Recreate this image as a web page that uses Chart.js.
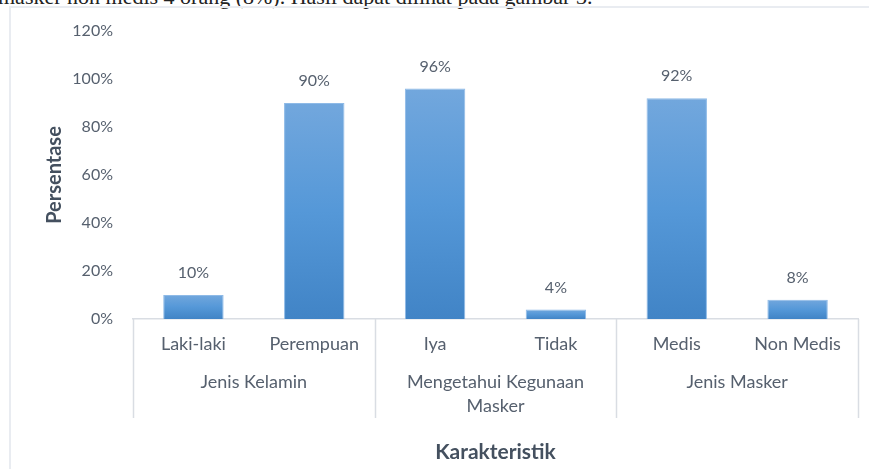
<!DOCTYPE html>
<html>
<head>
<meta charset="utf-8">
<script src="https://cdn.jsdelivr.net/npm/chart.js@4.4.1/dist/chart.umd.min.js"></script>
<style>
  html, body { margin: 0; padding: 0; background: #fff; overflow: hidden; }
  #page { position: relative; width: 869px; height: 469px; overflow: hidden; }
  #caption {
    position: absolute; left: -2px; top: -14px; white-space: nowrap;
    font-family: "Liberation Serif", serif; font-size: 22px; line-height: 22px; color: #222;
  }
  #frame {
    position: absolute; left: 9px; top: 6px; width: 900px; height: 500px;
    border-left: 2px solid #e9ecf1; border-top: 2px solid #e9ecf1;
  }
  #wrap { position: absolute; left: 0; top: 0; width: 869px; height: 469px; }
</style>
</head>
<body>
<div id="page">
  <div id="caption">masker non medis 4 orang (8%). Hasil dapat dilihat pada gambar 3.</div>
  <div id="frame"></div>
  <div id="wrap"><canvas id="chart"></canvas></div>
</div>
<script>
  // chart data
  const categories = ['Laki-laki', 'Perempuan', 'Iya', 'Tidak', 'Medis', 'Non Medis'];
  const groups = ['Jenis Kelamin', ['Mengetahui Kegunaan', 'Masker'], 'Jenis Masker'];
  const values = [10, 90, 96, 4, 92, 8];
  const yTicks = [0, 20, 40, 60, 80, 100, 120];

  const textColor = '#56606e';
  const lineColor = '#d9dde3';
  const font = 'Lato';

  // Bar gradient, lighter at the top of each bar
  function barFill(ctx) {
    const chart = ctx.chart;
    if (!chart.chartArea || ctx.raw == null) return '#5b9bd5';
    const y = chart.scales.y;
    const top = y.getPixelForValue(ctx.raw);
    const base = y.getPixelForValue(0);
    const g = chart.ctx.createLinearGradient(0, top, 0, base);
    g.addColorStop(0, '#72a7dd');
    g.addColorStop(0.5, '#5598d8');
    g.addColorStop(1, '#4184c6');
    return g;
  }

  // value labels above bars
  const valueLabels = {
    id: 'valueLabels',
    afterDatasetsDraw(chart) {
      const c = chart.ctx;
      const meta = chart.getDatasetMeta(0);
      c.save();
      c.font = '16px ' + font;
      c.fillStyle = textColor;
      c.textAlign = 'center';
      c.textBaseline = 'middle';
      meta.data.forEach((bar, i) => {
        c.fillText(values[i] + '%', bar.x, bar.y - 22);
      });
      c.restore();
    }
  };

  // vertical separators between the category groups
  const groupLines = {
    id: 'groupLines',
    afterDraw(chart) {
      const x = chart.scales.x;
      const x2 = chart.scales.x2;
      const c = chart.ctx;
      c.save();
      c.strokeStyle = lineColor;
      c.lineWidth = 1.5;
      for (let i = 0; i <= categories.length; i += 2) {
        const px = Math.round(x.getPixelForValue(i - 0.5)) + 0.5;
        c.beginPath();
        c.moveTo(px, x.top);
        c.lineTo(px, x2.top + 56);
        c.stroke();
      }
      c.restore();
    }
  };

  new Chart(document.getElementById('chart'), {
    type: 'bar',
    data: {
      labels: categories,
      datasets: [{
        data: values,
        backgroundColor: barFill,
        borderColor: 'rgba(130,178,228,0.9)',
        borderWidth: 1,
        categoryPercentage: 1,
        barPercentage: 0.5
      }]
    },
    options: {
      responsive: true,
      maintainAspectRatio: false,
      animation: false,
      events: [],
      layout: { padding: { left: 38, top: 31, right: 11, bottom: 0 } },
      plugins: { legend: { display: false }, tooltip: { enabled: false } },
      scales: {
        y: {
          min: 0,
          max: 120,
          afterBuildTicks: s => { s.ticks = yTicks.map(v => ({ value: v })); },
          afterFit: s => { s.width = 95; },
          grid: { display: false, drawTicks: false },
          border: { display: false },
          ticks: {
            padding: 20,
            color: textColor,
            font: { family: font, size: 16 },
            callback: v => v + '%'
          },
          title: {
            display: true,
            text: 'Persentase',
            color: '#44505f',
            font: { family: font, size: 20, weight: 'bold' },
            padding: { top: 5, bottom: 0 }
          }
        },
        x: {
          weight: 0,
          afterFit: s => { s.height = 43; },
          grid: { display: false, drawTicks: false },
          border: { display: true, color: lineColor, width: 1.5 },
          ticks: {
            padding: 14,
            color: textColor,
            maxRotation: 0,
            autoSkip: false,
            font: { family: font, size: 18 }
          }
        },
        x2: {
          type: 'category',
          position: 'bottom',
          weight: 1,
          labels: groups,
          offset: true,
          afterFit: s => { s.height = 107; },
          grid: { display: false, drawTicks: false },
          border: { display: false },
          ticks: {
            padding: 8,
            color: textColor,
            maxRotation: 0,
            autoSkip: false,
            font: { family: font, size: 18, lineHeight: 1.33 }
          },
          title: {
            display: true,
            text: 'Karakteristik',
            color: '#44505f',
            font: { family: font, size: 21, weight: 'bold' },
            padding: { top: 0, bottom: 4 }
          }
        }
      }
    },
    plugins: [valueLabels, groupLines]
  });
</script>
</body>
</html>
